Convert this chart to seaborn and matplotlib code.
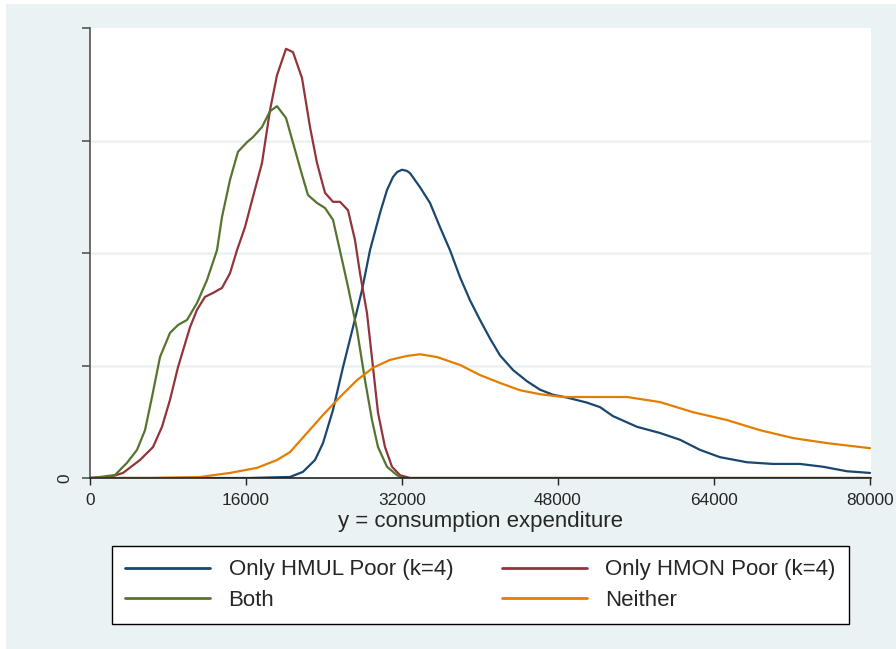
import numpy as np
import pandas as pd
import matplotlib
matplotlib.use("Agg")
import matplotlib.pyplot as plt
from matplotlib.patches import Rectangle
import seaborn as sns

# ---- data (density values in units of 1e-5) ----
x_hmul = [0, 16410, 18462, 20513, 21846, 23077, 23897, 24923, 25949, 26974, 27897, 28718,
          29744, 30462, 31077, 31500, 32000, 32500, 32821, 33846, 34872, 35897, 36923, 37949, 38974,
          40000, 41026, 42051, 43385, 44821, 46154, 47487, 48923, 50974, 52308, 53641,
          56103, 58462, 60513, 62564, 64615, 67385, 70051, 72821, 75179, 77641, 80000]
y_hmul = [0, 0, 0.01, 0.018, 0.11, 0.32, 0.62, 1.21, 1.97, 2.68, 3.34, 4.05,
          4.71, 5.12, 5.35, 5.44, 5.48, 5.46, 5.42, 5.17, 4.89, 4.46, 4.05, 3.57, 3.16,
          2.81, 2.48, 2.18, 1.92, 1.72, 1.57, 1.48, 1.43, 1.34, 1.26, 1.10,
          0.91, 0.80, 0.68, 0.50, 0.37, 0.28, 0.25, 0.25, 0.20, 0.12, 0.09]

x_hmon = [0, 2051, 3385, 5128, 6462, 7385, 8205, 9026, 10256, 10974, 11795, 12615, 13538,
          14359, 15077, 15897, 16718, 17641, 18462, 19179, 20103, 20821, 21744, 22564,
          23282, 24103, 24923, 25641, 26462, 27179, 27692, 28410, 29026, 29538, 30256,
          30974, 31795, 32821, 80000]
y_hmon = [0, 0.018, 0.09, 0.32, 0.55, 0.91, 1.39, 1.97, 2.68, 2.99, 3.22, 3.29, 3.38,
          3.64, 4.05, 4.46, 5.00, 5.60, 6.54, 7.16, 7.63, 7.57, 7.11, 6.24,
          5.60, 5.07, 4.91, 4.91, 4.76, 4.23, 3.64, 2.93, 1.97, 1.16, 0.55,
          0.20, 0.05, 0, 0]

x_both = [0, 1026, 2564, 3795, 4821, 5641, 6359, 7179, 8205, 9026, 9949, 10974, 12000,
          13026, 13538, 14359, 15179, 16103, 16718, 17641, 18462, 19179, 20103, 20821,
          21744, 22359, 23282, 24103, 24923, 25846, 26462, 27385, 28205, 28923, 29538,
          30462, 31487, 32103, 80000]
y_both = [0, 0.018, 0.053, 0.27, 0.50, 0.85, 1.44, 2.15, 2.58, 2.72, 2.81, 3.11, 3.52,
          4.05, 4.64, 5.30, 5.80, 5.97, 6.06, 6.24, 6.52, 6.61, 6.40, 5.96,
          5.39, 5.03, 4.89, 4.80, 4.59, 3.88, 3.40, 2.63, 1.74, 1.03, 0.55,
          0.20, 0.05, 0, 0]

x_neither = [0, 6154, 11282, 14359, 17128, 19179, 20513, 22256, 23897, 25641, 27385, 29026,
             30769, 32513, 33846, 35590, 37949, 40000, 42051, 44103, 46154, 48513, 52308,
             55077, 58462, 61846, 65333, 68718, 72103, 75590, 80000]
y_neither = [0, 0, 0.018, 0.09, 0.18, 0.32, 0.46, 0.80, 1.12, 1.44, 1.74, 1.96,
             2.10, 2.17, 2.20, 2.15, 2.01, 1.83, 1.69, 1.56, 1.49, 1.44, 1.44,
             1.44, 1.35, 1.17, 1.03, 0.85, 0.71, 0.62, 0.53]

series_names = ["Only HMUL Poor (k=4)", "Only HMON Poor (k=4)", "Both", "Neither"]
x_ticks = [0, 16000, 32000, 48000, 64000, 80000]
y_ticks = [0, 2, 4, 6, 8]
y_ticklabels = ["0", "", "", "", ""]
x_title = "y = consumption expenditure"

colors = ["#1A476F", "#90353B", "#55752F", "#E37E00"]

frames = []
for name, xs, ys in zip(series_names, [x_hmul, x_hmon, x_both, x_neither],
                        [y_hmul, y_hmon, y_both, y_neither]):
    frames.append(pd.DataFrame({"x": xs, "density": ys, "group": name}))
df = pd.concat(frames, ignore_index=True)

sns.set_style("white")
plt.rcParams["font.family"] = ["Liberation Sans", "DejaVu Sans"]

W, H = 896, 649
fig = plt.figure(figsize=(W / 100, H / 100), dpi=100)
fig.patch.set_facecolor("white")
bg = "#EAF2F3"
fig.patches.append(Rectangle((6 / W, 0), 1 - 6 / W, 1 - 4 / H, transform=fig.transFigure,
                             facecolor=bg, edgecolor="none", zorder=-10))

ax = fig.add_axes([90 / W, (H - 478) / H, 781 / W, 450 / H])
ax.set_facecolor("white")

sns.lineplot(data=df, x="x", y="density", hue="group", hue_order=series_names,
             palette=colors, estimator=None, sort=False, linewidth=1.6, ax=ax,
             legend=True)

ax.set_xlim(0, 80000 * 781 / 780)
ax.set_ylim(0, 8)
ax.set_xticks(x_ticks)
ax.set_xticklabels([str(t) for t in x_ticks])
ax.set_yticks(y_ticks)
ax.set_yticklabels(y_ticklabels, rotation=90, va="center")

for yv in y_ticks[1:-1]:
    ax.axhline(yv, color=bg, linewidth=1.8, zorder=0)

for s in ["top", "right"]:
    ax.spines[s].set_visible(False)
ax.spines["left"].set_color("#555555")
ax.spines["left"].set_linewidth(1.2)
ax.spines["bottom"].set_color("#222222")
ax.spines["bottom"].set_linewidth(1.2)

ax.tick_params(axis="x", direction="out", length=5, width=1, color="#222222",
               labelsize=12.4, pad=6, bottom=True)
ax.tick_params(axis="y", direction="out", length=6, width=1.2, color="#555555",
               labelsize=12.4, pad=7, left=True)

ax.set_xlabel(x_title, fontsize=16, labelpad=2)
ax.set_ylabel("")

handles, labels = ax.get_legend_handles_labels()
ax.get_legend().remove()
hmap = dict(zip(labels, handles))
order = [series_names[0], series_names[2], series_names[1], series_names[3]]
leg = fig.legend([hmap[k] for k in order], order, loc="upper center",
                 bbox_to_anchor=(480.5 / W, 1 - 546 / H), ncol=2, fontsize=16,
                 frameon=True, fancybox=False, edgecolor="black", framealpha=1,
                 handlelength=3.8, handletextpad=0.85, columnspacing=2.2,
                 borderpad=0.6, labelspacing=0.42, borderaxespad=0)
leg.get_frame().set_linewidth(1.0)
for lh in leg.get_lines():
    lh.set_linewidth(2.0)

fig.savefig("out.png", dpi=100)
